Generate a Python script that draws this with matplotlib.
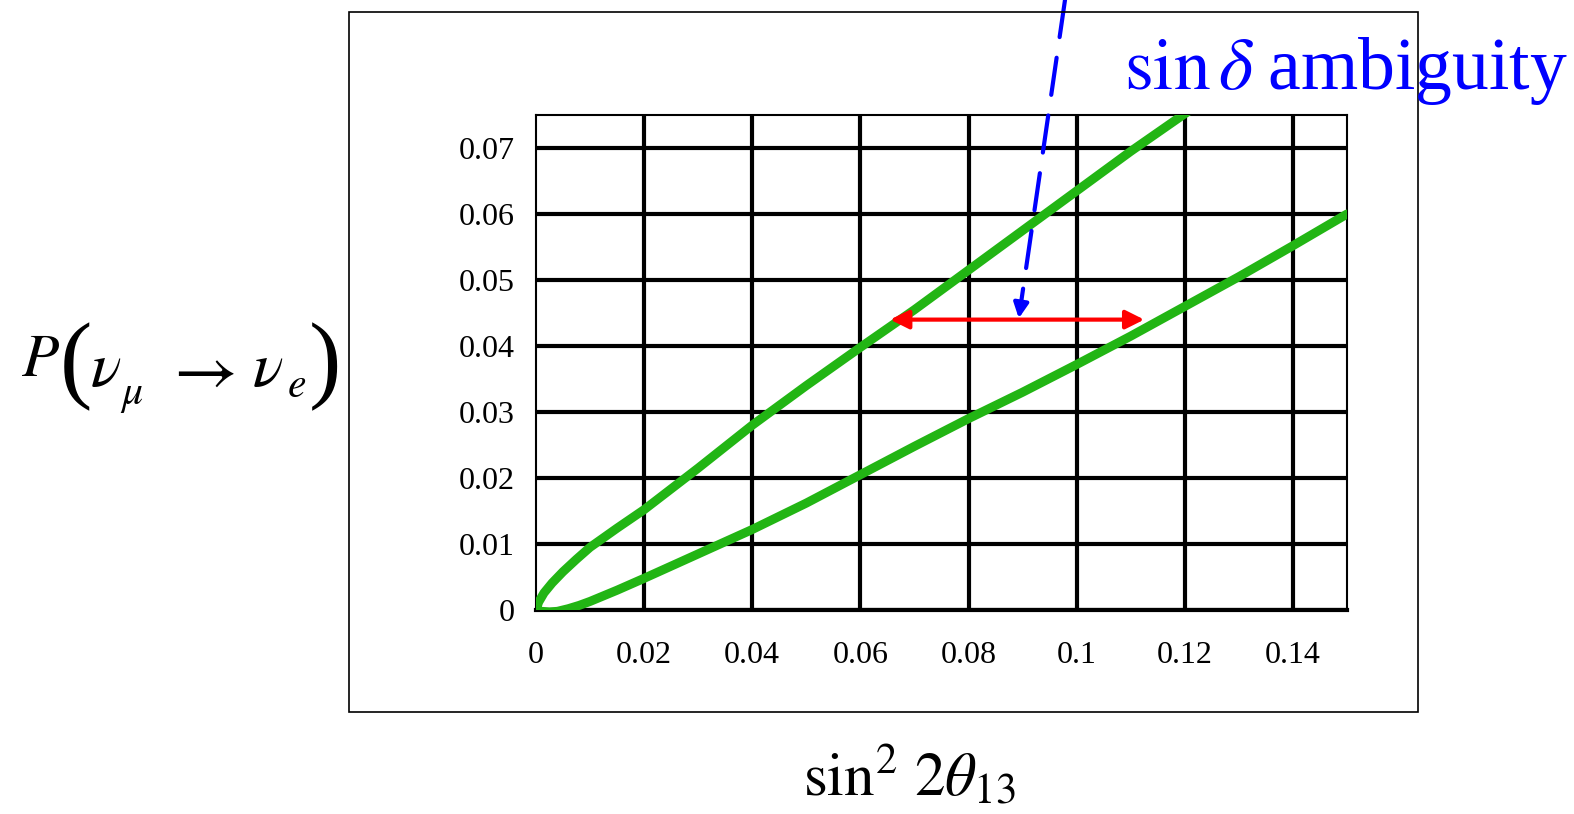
import numpy as np
import matplotlib.pyplot as plt
from matplotlib.patches import Rectangle

plt.rcParams['font.family'] = 'Liberation Serif'
plt.rcParams['mathtext.fontset'] = 'stix'

# upper branch of the ellipse
upper_x = [0, 0.0005, 0.0015, 0.003, 0.005, 0.0075, 0.01, 0.015, 0.02, 0.03, 0.04, 0.05, 0.06, 0.07,
           0.08, 0.09, 0.1, 0.11, 0.12, 0.125]
upper_y = [0, 0.0012, 0.0026, 0.0041, 0.0058, 0.0077, 0.0095, 0.0124, 0.0152, 0.0215, 0.028, 0.034,
           0.0398, 0.0455, 0.0515, 0.0575, 0.0635, 0.0695, 0.0752, 0.078]
# lower branch
lower_x = [0, 0.001, 0.0025, 0.004, 0.006, 0.008, 0.01, 0.015, 0.02, 0.03, 0.04, 0.05, 0.06, 0.07,
           0.08, 0.09, 0.1, 0.11, 0.12, 0.13, 0.14, 0.15]
lower_y = [0, -0.0002, -0.0003, -0.0002, 0.0002, 0.0007, 0.0013, 0.003, 0.0048, 0.0085, 0.0122,
           0.0162, 0.0205, 0.0248, 0.029, 0.033, 0.0372, 0.0415, 0.046, 0.0505, 0.0552, 0.06]

xticks = [0, 0.02, 0.04, 0.06, 0.08, 0.1, 0.12, 0.14]
xlabels = ['0', '0.02', '0.04', '0.06', '0.08', '0.1', '0.12', '0.14']
yticks = [0, 0.01, 0.02, 0.03, 0.04, 0.05, 0.06, 0.07]
ylabels = ['0', '0.01', '0.02', '0.03', '0.04', '0.05', '0.06', '0.07']

# ambiguity range and arrow target
ambig_y = 0.044
ambig_x = [0.0655, 0.1125]
arrow_tip = (0.0893, 0.0442)

fig = plt.figure(figsize=(15.74, 8.14), dpi=100)
ax = fig.add_axes([0.3405, 0.2506, 0.5153, 0.6081])
ax.set_xlim(0, 0.15)
ax.set_ylim(0, 0.075)

# grid
ax.hlines(yticks, 0, 0.15, color='black', lw=3, zorder=1)
ax.vlines(xticks[1:], 0, 0.075, color='black', lw=3, zorder=1)
for s in ax.spines.values():
    s.set_linewidth(1.5)
ax.spines['bottom'].set_linewidth(3)

ax.set_xticks(xticks)
ax.set_xticklabels(xlabels, fontsize=23)
ax.set_yticks(yticks)
ax.set_yticklabels(ylabels, fontsize=23)
ax.tick_params(length=0)
ax.tick_params(axis='x', pad=22)
ax.tick_params(axis='y', pad=15)

# ellipse
ex = upper_x[::-1] + lower_x[1:]
ey = upper_y[::-1] + lower_y[1:]
ax.plot(ex, ey, color='#22b514', lw=6.5, solid_capstyle='round', solid_joinstyle='round', zorder=3)

# red double arrow
ax.annotate('', xy=(ambig_x[0], ambig_y), xytext=(ambig_x[1], ambig_y),
            arrowprops=dict(arrowstyle='<|-|>', color='red', lw=3, mutation_scale=28,
                            shrinkA=0, shrinkB=0), zorder=4)

# blue dashed arrow from the label
ax.annotate('', xy=arrow_tip, xycoords='data', xytext=(1065 / 1574, 1.0), textcoords='figure fraction',
            arrowprops=dict(arrowstyle='-|>', color='blue', lw=3, ls=(0, (9, 5)), mutation_scale=22,
                            shrinkA=0, shrinkB=0), zorder=5, annotation_clip=False)

fig.text(1124 / 1574, 1 - 89 / 814, r'$\mathrm{sin}\,\delta\;$ambiguity', color='blue', fontsize=53,
         ha='left', va='baseline')

# outer box
fig.add_artist(Rectangle((349 / 1574, 1 - 712 / 814), (1418 - 349) / 1574, (712 - 12) / 814,
                         transform=fig.transFigure, fill=False, edgecolor='black', lw=1.2))

# y label built from pieces to get the wide equation-editor spacing
def fy(py):
    return 1 - py / 814

fig.text(21 / 1574, fy(376), r'$P$', fontsize=44, ha='left', va='baseline')
fig.text(60 / 1574, fy(367), '(', fontsize=70, ha='left', va='center')
fig.text(90 / 1574, fy(386), r'$\nu$', fontsize=46, ha='left', va='baseline')
fig.text(120 / 1574, fy(404), r'$\mu$', fontsize=30, ha='left', va='baseline')
fig.text(163 / 1574, fy(373), r'$\rightarrow$', fontsize=50, ha='left', va='center')
fig.text(252 / 1574, fy(386), r'$\nu$', fontsize=46, ha='left', va='baseline')
fig.text(287 / 1574, fy(397), r'$e$', fontsize=30, ha='left', va='baseline')
fig.text(309 / 1574, fy(367), ')', fontsize=70, ha='left', va='center')

fig.text(803 / 1574, fy(795), r'$\sin^{2}\,2\theta_{13}$', fontsize=44, ha='left', va='baseline')

fig.savefig('out.png', dpi=100)
